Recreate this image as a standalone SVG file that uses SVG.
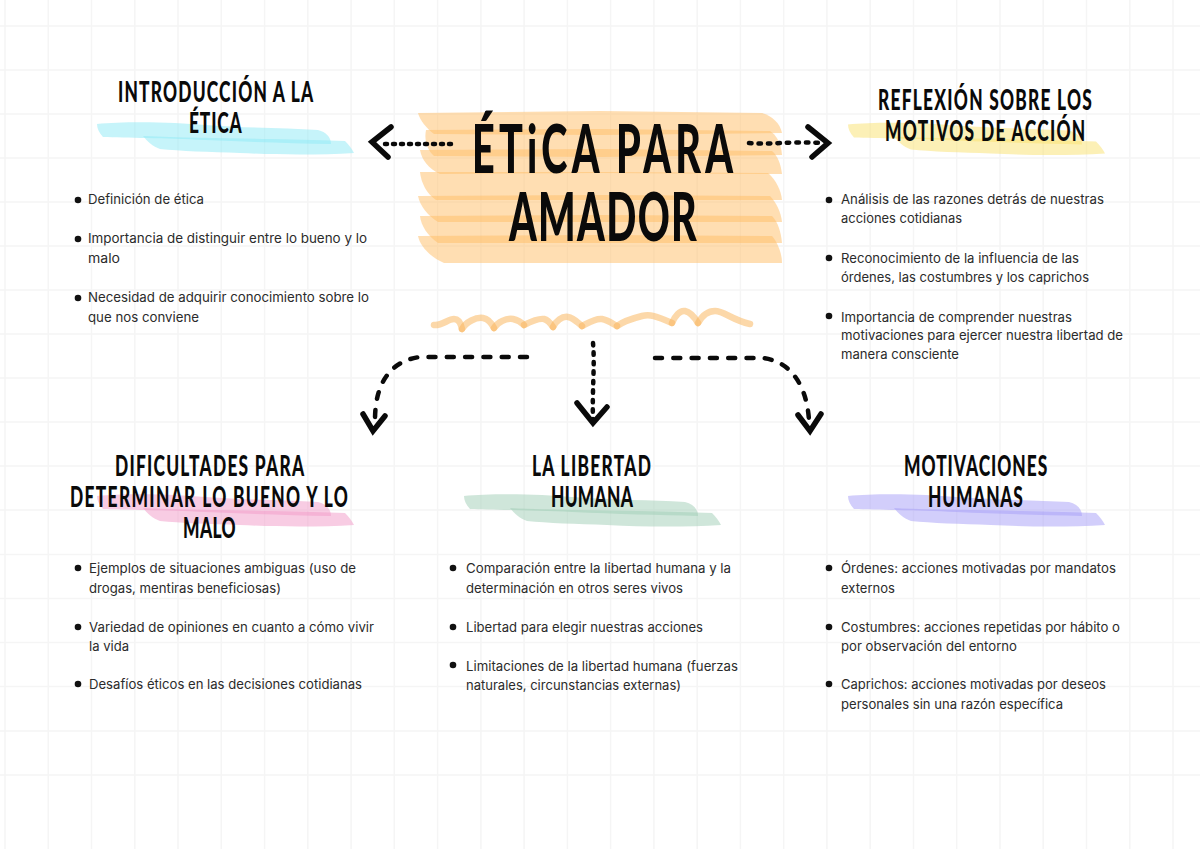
<svg xmlns="http://www.w3.org/2000/svg" xmlns:xlink="http://www.w3.org/1999/xlink" width="1200" height="849" viewBox="0 0 1200 849">
<style>
.grid{stroke:#f5f5f5;stroke-width:1.5;fill:none}
.h{font-family:Lato,"Liberation Sans",sans-serif;font-weight:900;font-size:28px;fill:#0a0a0a}
.t{font-family:Lato,"Liberation Sans",sans-serif;font-weight:900;font-size:66px;fill:#0a0a0a}
.b{font-family:Inter,"Liberation Sans",sans-serif;font-size:13px;fill:#2b2b2b}
.d{fill:#111}
.band{fill:#ffbd66;fill-opacity:.5}
.sq{fill:none;stroke:#f9b45a;stroke-opacity:.52;stroke-width:6.5;stroke-linecap:round;stroke-linejoin:round}
.dash{fill:none;stroke:#0a0a0a;stroke-width:4.5;stroke-linecap:round;stroke-linejoin:round}
.head{fill:none;stroke:#0a0a0a;stroke-width:5.5;stroke-linecap:round;stroke-linejoin:miter}
.brush{fill-opacity:.5}
</style>
<defs>
<g id="brush">
<path d="M97,124C125,121 175,122 205,125C245,128 285,128 318,130C326,132 331,137 331,144C290,143 250,142 205,140C165,138 125,138 103,137C99,133 97,128 97,124Z"/>
<path d="M143,136C180,138 230,138 270,139C300,140 325,140 345,141C349,145 352,149 354,153C320,155 280,155 240,153C210,152 180,151 160,149C152,146 147,141 143,136Z"/>
</g>
</defs>
<rect width="1200" height="849" fill="#fff"/>
<path class="grid" d="M5,0V849M48.3,0V849M91.5,0V849M134.8,0V849M178,0V849M221.3,0V849M264.6,0V849M307.8,0V849M351.1,0V849M394.3,0V849M437.6,0V849M480.9,0V849M524.1,0V849M567.4,0V849M610.6,0V849M653.9,0V849M697.2,0V849M740.4,0V849M783.7,0V849M826.9,0V849M870.2,0V849M913.5,0V849M956.7,0V849M1000,0V849M1043.2,0V849M1086.5,0V849M1129.8,0V849M1173,0V849M0,26H1200M0,70H1200M0,114H1200M0,158H1200M0,202H1200M0,246H1200M0,290H1200M0,334H1200M0,378H1200M0,422H1200M0,466H1200M0,510H1200M0,554.5H1200M0,598.5H1200M0,642.5H1200M0,686.5H1200M0,731H1200M0,775H1200"/>

<g id="center-node">
<path class="band" d="M418,113L600,111L762,113C772,116 780,123 782,133L600,135L434,134C426,128 420,120 418,113Z"/>
<path class="band" d="M426,130L600,129L770,131C776,135 781,142 782,155L600,157L434,156C427,150 424,140 426,130Z"/>
<path class="band" d="M420,150L600,149L772,151C778,156 781,165 782,174L600,173L440,174C428,168 422,160 420,150Z"/>
<path class="band" d="M420,172L600,172L768,173C776,180 781,190 782,200L600,200L436,200C427,194 421,183 420,172Z"/>
<path class="band" d="M418,196L600,195L770,196C776,202 781,212 782,222L600,222L438,222C428,216 420,206 418,196Z"/>
<path class="band" d="M420,216L600,215L772,216C778,222 781,232 782,243L600,243L438,243C428,236 421,226 420,216Z"/>
<path class="band" d="M418,236L600,235L772,236C778,243 782,254 782,263L600,263L444,263C430,257 420,246 418,236Z"/>
<text class="t" transform="translate(472,173) scale(.6,1)" textLength="435">ÉTiCA PARA</text>
<text class="t" transform="translate(509,241) scale(.6,1)" textLength="313">AMADOR</text>
</g>

<g id="squiggle">
<path class="sq" d="M434,325C442,326 448,319 454,319C459,319 461,324 462,329"/>
<path class="sq" d="M462,329C466,322 476,317 483,318C489,319 492,324 494,328"/>
<path class="sq" d="M494,328C498,322 506,318 513,319C518,320 522,323 524,325"/>
<path class="sq" d="M524,325C530,322 538,318 544,319C548,320 551,324 553,327"/>
<path class="sq" d="M553,327C556,321 562,316 568,317C574,318 578,323 582,326"/>
<path class="sq" d="M582,326C588,323 595,318 602,319C608,320 613,324 617,326"/>
<path class="sq" d="M617,326C624,321 634,318 642,316C650,314 656,316 672,323"/>
<path class="sq" d="M672,323C675,316 680,310 685,311C690,312 695,318 698,323"/>
<path class="sq" d="M698,323C702,316 708,311 715,311C724,311 732,320 750,324"/>
</g>

<g id="connectors">
<path class="dash" stroke-width="4" stroke-dasharray="2 6" d="M451,144H384"/>
<path class="head" d="M391,127L372,142L388,157"/>
<path class="dash" stroke-width="4" stroke-dasharray="2.5 7" d="M749,143C770,145 790,141 820,143"/>
<path class="head" d="M808,127L828,143L812,157"/>
<path class="dash" stroke-width="4" stroke-dasharray="2.5 7" d="M593,343C595,365 592,390 593,419"/>
<path class="head" d="M577,403L593,423L607,407"/>
<path class="dash" stroke-dasharray="7 11.3" d="M527,357H420C395,360 375,378 375,420"/>
<path class="head" stroke-width="6" d="M363,414L373,431L385,416"/>
<path class="dash" stroke-dasharray="7 11.3" d="M655,358H762C785,360 806,378 809,420"/>
<path class="head" stroke-width="6" d="M798,415L810,431L821,414"/>
</g>

<g id="node-introduccion">
<use xlink:href="#brush" class="brush" fill="#8eeaf5"/>
<text class="h" transform="translate(118,102) scale(.62,1)" textLength="315">INTRODUCCIÓN A LA</text>
<text class="h" transform="translate(189,133) scale(.62,1)" textLength="85">ÉTICA</text>
<circle class="d" cx="78" cy="200" r="3.3"/><circle class="d" cx="78" cy="239" r="3.3"/><circle class="d" cx="78" cy="298" r="3.3"/>
<text class="b" x="88" y="204" textLength="116" lengthAdjust="spacingAndGlyphs">Definición de ética</text>
<text class="b" x="88" y="243" textLength="279" lengthAdjust="spacingAndGlyphs">Importancia de distinguir entre lo bueno y lo</text>
<text class="b" x="88" y="263" textLength="32" lengthAdjust="spacingAndGlyphs">malo</text>
<text class="b" x="88" y="302" textLength="281" lengthAdjust="spacingAndGlyphs">Necesidad de adquirir conocimiento sobre lo</text>
<text class="b" x="88" y="322" textLength="111" lengthAdjust="spacingAndGlyphs">que nos conviene</text>
</g>

<g id="node-reflexion">
<use xlink:href="#brush" class="brush" fill="#fae16e" transform="translate(751,0.5)"/>
<text class="h" transform="translate(878,110) scale(.62,1)" textLength="345">REFLEXIÓN SOBRE LOS</text>
<text class="h" transform="translate(885,141) scale(.62,1)" textLength="323">MOTIVOS DE ACCIÓN</text>
<circle class="d" cx="829" cy="200" r="3.3"/><circle class="d" cx="829" cy="258" r="3.3"/><circle class="d" cx="829" cy="316" r="3.3"/>
<text class="b" x="841" y="204" textLength="263" lengthAdjust="spacingAndGlyphs">Análisis de las razones detrás de nuestras</text>
<text class="b" x="841" y="223" textLength="121" lengthAdjust="spacingAndGlyphs">acciones cotidianas</text>
<text class="b" x="841" y="263" textLength="238" lengthAdjust="spacingAndGlyphs">Reconocimiento de la influencia de las</text>
<text class="b" x="841" y="282" textLength="248" lengthAdjust="spacingAndGlyphs">órdenes, las costumbres y los caprichos</text>
<text class="b" x="841" y="322" textLength="231" lengthAdjust="spacingAndGlyphs">Importancia de comprender nuestras</text>
<text class="b" x="841" y="340" textLength="282" lengthAdjust="spacingAndGlyphs">motivaciones para ejercer nuestra libertad de</text>
<text class="b" x="841" y="359" textLength="118" lengthAdjust="spacingAndGlyphs">manera consciente</text>
</g>

<g id="node-dificultades">
<use xlink:href="#brush" class="brush" fill="#f29ac8" transform="translate(0,372)"/>
<text class="h" transform="translate(115,476) scale(.62,1)" textLength="305">DIFICULTADES PARA</text>
<text class="h" transform="translate(70,507) scale(.62,1)" textLength="448">DETERMINAR LO BUENO Y LO</text>
<text class="h" transform="translate(183,538) scale(.62,1)" textLength="85">MALO</text>
<circle class="d" cx="78" cy="568" r="3.3"/><circle class="d" cx="78" cy="627" r="3.3"/><circle class="d" cx="78" cy="684" r="3.3"/>
<text class="b" x="89" y="573" textLength="267" lengthAdjust="spacingAndGlyphs">Ejemplos de situaciones ambiguas (uso de</text>
<text class="b" x="89" y="593" textLength="192" lengthAdjust="spacingAndGlyphs">drogas, mentiras beneficiosas)</text>
<text class="b" x="89" y="632" textLength="285" lengthAdjust="spacingAndGlyphs">Variedad de opiniones en cuanto a cómo vivir</text>
<text class="b" x="89" y="651" textLength="40" lengthAdjust="spacingAndGlyphs">la vida</text>
<text class="b" x="89" y="689" textLength="273" lengthAdjust="spacingAndGlyphs">Desafíos éticos en las decisiones cotidianas</text>
</g>

<g id="node-libertad">
<use xlink:href="#brush" class="brush" fill="#9fcdb5" transform="translate(367,372)"/>
<text class="h" transform="translate(532,476) scale(.62,1)" textLength="192">LA LIBERTAD</text>
<text class="h" transform="translate(551,507) scale(.62,1)" textLength="132">HUMANA</text>
<circle class="d" cx="453" cy="568" r="3.3"/><circle class="d" cx="453" cy="627" r="3.3"/><circle class="d" cx="453" cy="665" r="3.3"/>
<text class="b" x="466" y="573" textLength="265" lengthAdjust="spacingAndGlyphs">Comparación entre la libertad humana y la</text>
<text class="b" x="466" y="593" textLength="217" lengthAdjust="spacingAndGlyphs">determinación en otros seres vivos</text>
<text class="b" x="466" y="632" textLength="237" lengthAdjust="spacingAndGlyphs">Libertad para elegir nuestras acciones</text>
<text class="b" x="466" y="671" textLength="272" lengthAdjust="spacingAndGlyphs">Limitaciones de la libertad humana (fuerzas</text>
<text class="b" x="466" y="690" textLength="215" lengthAdjust="spacingAndGlyphs">naturales, circunstancias externas)</text>
</g>

<g id="node-motivaciones">
<use xlink:href="#brush" class="brush" fill="#a69ef7" transform="translate(751,372)"/>
<text class="h" transform="translate(904,476) scale(.62,1)" textLength="231">MOTIVACIONES</text>
<text class="h" transform="translate(928,507) scale(.62,1)" textLength="153">HUMANAS</text>
<circle class="d" cx="829" cy="568" r="3.3"/><circle class="d" cx="829" cy="627" r="3.3"/><circle class="d" cx="829" cy="684" r="3.3"/>
<text class="b" x="841" y="573" textLength="275" lengthAdjust="spacingAndGlyphs">Órdenes: acciones motivadas por mandatos</text>
<text class="b" x="841" y="593" textLength="54" lengthAdjust="spacingAndGlyphs">externos</text>
<text class="b" x="841" y="632" textLength="279" lengthAdjust="spacingAndGlyphs">Costumbres: acciones repetidas por hábito o</text>
<text class="b" x="841" y="651" textLength="176" lengthAdjust="spacingAndGlyphs">por observación del entorno</text>
<text class="b" x="841" y="689" textLength="265" lengthAdjust="spacingAndGlyphs">Caprichos: acciones motivadas por deseos</text>
<text class="b" x="841" y="709" textLength="222" lengthAdjust="spacingAndGlyphs">personales sin una razón específica</text>
</g>
</svg>
